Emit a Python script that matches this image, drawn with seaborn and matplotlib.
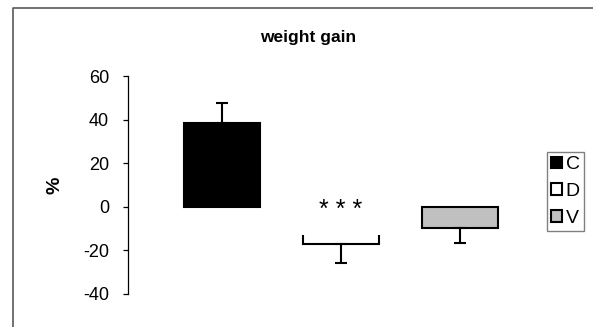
import matplotlib
matplotlib.use("Agg")
import matplotlib.pyplot as plt
from matplotlib.lines import Line2D
from matplotlib.patches import Patch
import seaborn as sns
import pandas as pd

# data
groups = ["C", "D", "V"]
means = [38.5, -17.0, -9.6]
errors = [9.2, 9.0, 6.8]
colors = ["#000000", "#ffffff", "#c0c0c0"]
title = "weight gain"
stars = "* * *"

sns.set_theme(style="white")
plt.rcParams["font.family"] = ["Liberation Sans", "DejaVu Sans"]
plt.rcParams["axes.unicode_minus"] = False
plt.rcParams["text.color"] = "black"
plt.rcParams["axes.labelcolor"] = "black"

df = pd.DataFrame({"group": groups, "value": means})

fig = plt.figure(figsize=(5.93, 3.27), dpi=100)
fig.patch.set_linewidth(0)
ax = fig.add_axes([128 / 593, 33 / 327, 426 / 593, 218 / 327])

sns.barplot(
    data=df,
    x="group",
    y="value",
    hue="group",
    palette=colors,
    width=0.64,
    edgecolor="black",
    linewidth=1.5,
    dodge=False,
    legend=False,
    errorbar=None,
    ax=ax
)

# one-sided error bars (away from zero)
lower = [0 if m > 0 else e for m, e in zip(means, errors)]
upper = [e if m > 0 else 0 for m, e in zip(means, errors)]
ax.errorbar(
    range(len(groups)),
    means,
    yerr=[lower, upper],
    fmt="none",
    ecolor="black",
    elinewidth=1.5,
    capsize=4.5,
    capthick=1.5,
    zorder=1
)

# significance text; its white box hides the upper part of the D bar
ax.text(
    1, -1.3, stars,
    ha="center", va="center",
    fontsize=18,
    bbox=dict(boxstyle="square,pad=0.9", fc="white", ec="none",
              mutation_aspect=0.6),
    zorder=5
)

ax.set_ylim(-40, 60)
ax.set_xlim(-0.79, 2.79)
ax.set_yticks([-40, -20, 0, 20, 40, 60])
ax.set_xticks([])
ax.set_xlabel("")
ax.set_ylabel("%", fontsize=14, fontweight="bold", labelpad=14)

for side in ["top", "right", "bottom"]:
    ax.spines[side].set_visible(False)
ax.spines["left"].set_color("black")
ax.spines["left"].set_linewidth(0.9)
ax.tick_params(axis="y", left=True, length=3.6, width=0.9, color="black",
               pad=10, labelsize=13, labelcolor="black")
ax.patch.set_alpha(0)

fig.text(0.52, 1 - 42 / 327, title, ha="center", va="baseline",
         fontsize=12.5, fontweight="bold", color="black")

handles = [Patch(facecolor=c, edgecolor="black", linewidth=1.5) for c in colors]
fig.legend(
    handles, groups,
    loc="upper left",
    bbox_to_anchor=(547 / 593, 1 - 152 / 327),
    fontsize=14,
    frameon=True,
    fancybox=False,
    edgecolor="#808080",
    framealpha=1,
    handlelength=0.55,
    handleheight=0.55,
    handletextpad=0.2,
    labelspacing=0.5,
    borderpad=0.22,
    borderaxespad=0
)

# outer chart frame: only its top and left edges fall inside the picture
fig.add_artist(Line2D([12.5 / 593, 12.5 / 593, 1.0], [0.0, 1 - 7.5 / 327, 1 - 7.5 / 327],
                      transform=fig.transFigure, color="#595959", linewidth=1.2))

fig.savefig("out.png", dpi=100)
